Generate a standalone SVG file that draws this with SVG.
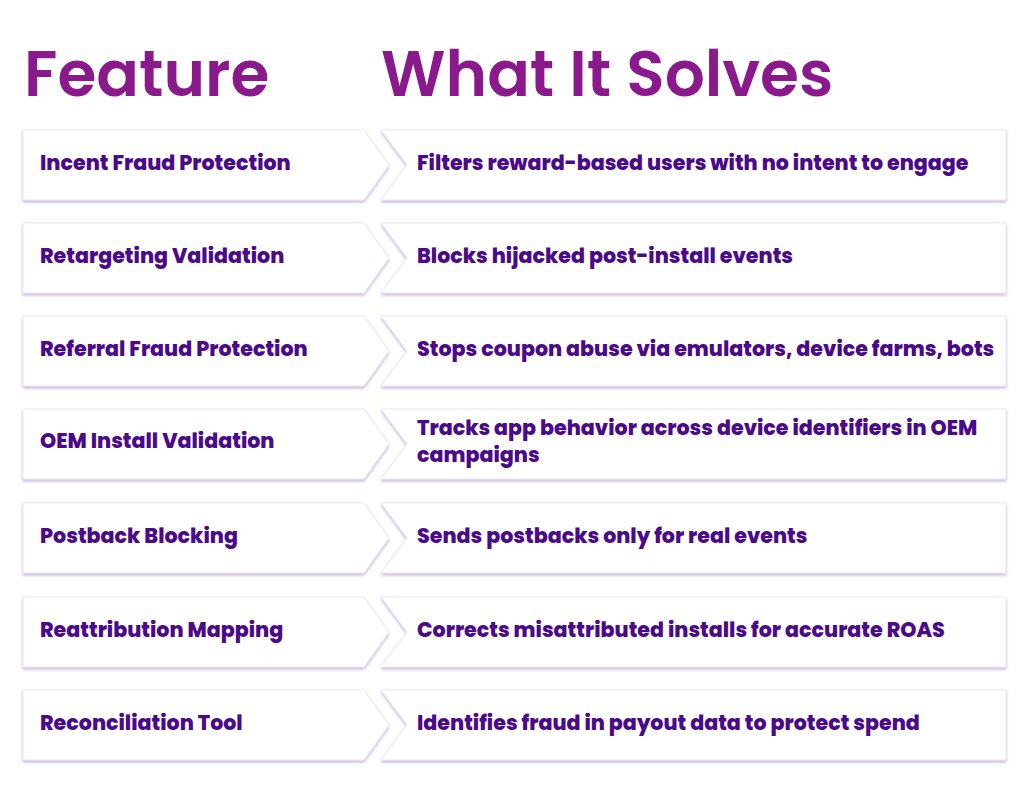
<svg xmlns="http://www.w3.org/2000/svg" width="1024" height="808" viewBox="0 0 1024 808">
<defs>
<filter id="sh" x="-5%" y="-20%" width="110%" height="150%"><feDropShadow dx="0" dy="2" stdDeviation="1.5" flood-color="#9b7fc4" flood-opacity="0.55"/></filter>
<path id="L" d="M23 -35 H364 L389 0 L364 35 H23 Z"/>
<path id="R" d="M381 -35 H1006 V35 H381 L407 0 Z"/>
</defs>
<style>
.t{font-family:Poppins,"Open Sans","Liberation Sans",sans-serif;font-weight:800;font-size:20.6px;fill:#4a0a8a}
.h{font-family:Poppins,"Open Sans","Liberation Sans",sans-serif;font-weight:600;font-size:63px;fill:#8a1a8c}
.s{fill:#fff;stroke:#ece6f4;stroke-width:1;filter:url(#sh)}
</style>
<rect width="1024" height="808" fill="#fff"/>
<text class="h" x="24" y="96">Feature</text>
<text class="h" x="381" y="96">What It Solves</text>
<g id="connectors"/>
<g id="r1" transform="translate(0,165)"><use href="#L" class="s"/><use href="#R" class="s"/><text class="t" x="40" y="5">Incent Fraud Protection</text><text class="t" x="417" y="5">Filters reward-based users with no intent to engage</text></g>
<g id="r2" transform="translate(0,258)"><use href="#L" class="s"/><use href="#R" class="s"/><text class="t" x="40" y="5">Retargeting Validation</text><text class="t" x="417" y="5">Blocks hijacked post-install events</text></g>
<g id="r3" transform="translate(0,351)"><use href="#L" class="s"/><use href="#R" class="s"/><text class="t" x="40" y="5">Referral Fraud Protection</text><text class="t" x="417" y="5">Stops coupon abuse via emulators, device farms, bots</text></g>
<g id="r4" transform="translate(0,444)"><use href="#L" class="s"/><use href="#R" class="s"/><text class="t" x="40" y="4">OEM Install Validation</text><text class="t" x="417" y="-9">Tracks app behavior across device identifiers in OEM</text><text class="t" x="417" y="18">campaigns</text></g>
<g id="r5" transform="translate(0,538)"><use href="#L" class="s"/><use href="#R" class="s"/><text class="t" x="40" y="5">Postback Blocking</text><text class="t" x="417" y="5">Sends postbacks only for real events</text></g>
<g id="r6" transform="translate(0,632)"><use href="#L" class="s"/><use href="#R" class="s"/><text class="t" x="40" y="5">Reattribution Mapping</text><text class="t" x="417" y="5">Corrects misattributed installs for accurate ROAS</text></g>
<g id="r7" transform="translate(0,725)"><use href="#L" class="s"/><use href="#R" class="s"/><text class="t" x="40" y="5">Reconciliation Tool</text><text class="t" x="417" y="5">Identifies fraud in payout data to protect spend</text></g>
</svg>
